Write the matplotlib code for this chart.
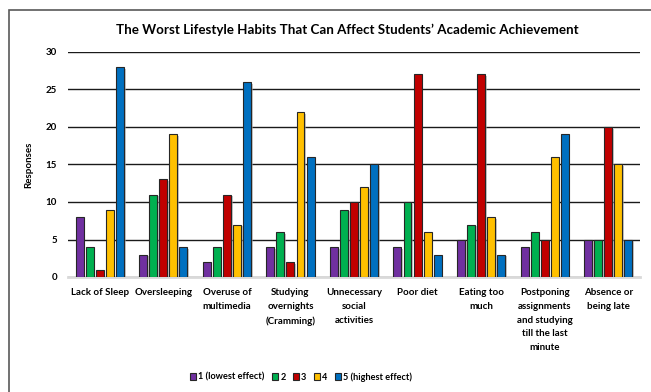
import matplotlib
matplotlib.use('Agg')
import matplotlib.pyplot as plt
import matplotlib.patheffects as pe
from matplotlib.patches import Rectangle
import numpy as np

plt.rcParams['font.family'] = ['Lato', 'DejaVu Sans']

# --- DATA ---
habits = ['Lack of Sleep', 'Oversleeping', 'Overuse of\nmultimedia',
          'Studying\novernights\n(Cramming)', 'Unnecessary\nsocial\nactivities',
          'Poor diet', 'Eating too\nmuch',
          'Postponing\nassignments\nand studying\ntill the last\nminute',
          'Absence or\nbeing late']
levels = ['1 (lowest effect)', '2', '3', '4', '5 (highest effect)']
effect_1 = [8, 3, 2, 4, 4, 4, 5, 4, 5]
effect_2 = [4, 11, 4, 6, 9, 10, 7, 6, 5]
effect_3 = [1, 13, 11, 2, 10, 27, 27, 5, 20]
effect_4 = [9, 19, 7, 22, 12, 6, 8, 16, 15]
effect_5 = [28, 4, 26, 16, 15, 3, 3, 19, 5]
colors = ['#7030A0', '#00B050', '#C00000', '#FFC000', '#0070C0']

series = [effect_1, effect_2, effect_3, effect_4, effect_5]

fig = plt.figure(figsize=(6.51, 3.92), dpi=100)
ax = fig.add_axes([68 / 651, 1 - 277 / 392, 572 / 651, 225 / 392])

# chart frame
fig.patches.append(Rectangle((9 / 651, -0.1), 1.2, 1 - 10 / 392 + 0.1,
                             transform=fig.transFigure, fill=False,
                             edgecolor='#595959', linewidth=1.2))

x = np.arange(len(habits))
width = 0.125
step = 0.158
shadow = [pe.SimplePatchShadow(offset=(1.2, -1.2), shadow_rgbFace='#a0a0a0', alpha=0.6), pe.Normal()]
for i, (vals, col, lab) in enumerate(zip(series, colors, levels)):
    bars = ax.bar(x + (i - 2) * step, vals, width, color=col, edgecolor='#262626',
                  linewidth=0.8, label=lab, zorder=3)
    for b in bars:
        b.set_path_effects(shadow)

ax.set_ylim(0, 30)
ax.set_xlim(-0.5, len(habits) - 0.5)
ax.set_yticks(range(0, 31, 5))
ax.yaxis.grid(True, color='#1a1a1a', linewidth=1.0, zorder=0)
ax.set_axisbelow(True)
for s in ['top', 'right', 'left']:
    ax.spines[s].set_visible(False)
ax.spines['bottom'].set_color('#d9d9d9')
ax.spines['bottom'].set_linewidth(2)
ax.tick_params(axis='both', length=0, labelsize=7)
ax.tick_params(axis='y', pad=8)
ax.tick_params(axis='x', pad=8)
ax.set_xticks(x)
ax.set_xticklabels(habits, fontweight='bold', linespacing=1.68, va='top')
for t in ax.get_yticklabels():
    t.set_fontweight('bold')

ax.set_ylabel('Responses', fontsize=7, fontweight='bold')
ax.yaxis.set_label_coords(-35 / 572, 0.5)
fig.text(347 / 651, 1 - 30 / 392, 'The Worst Lifestyle Habits That Can Affect Students\u2019 Academic Achievement',
         ha='center', va='center', fontsize=9.6, fontweight='bold')

leg = fig.legend(loc='center', bbox_to_anchor=(301 / 651, 1 - 377 / 392), ncol=5,
                 frameon=False, fontsize=6.6, handlelength=0.65, handleheight=0.65,
                 handletextpad=0.25, columnspacing=0.8)
for t in leg.get_texts():
    t.set_fontweight('bold')
for h in leg.legend_handles:
    h.set_path_effects([])

fig.savefig('out.png', dpi=100)
